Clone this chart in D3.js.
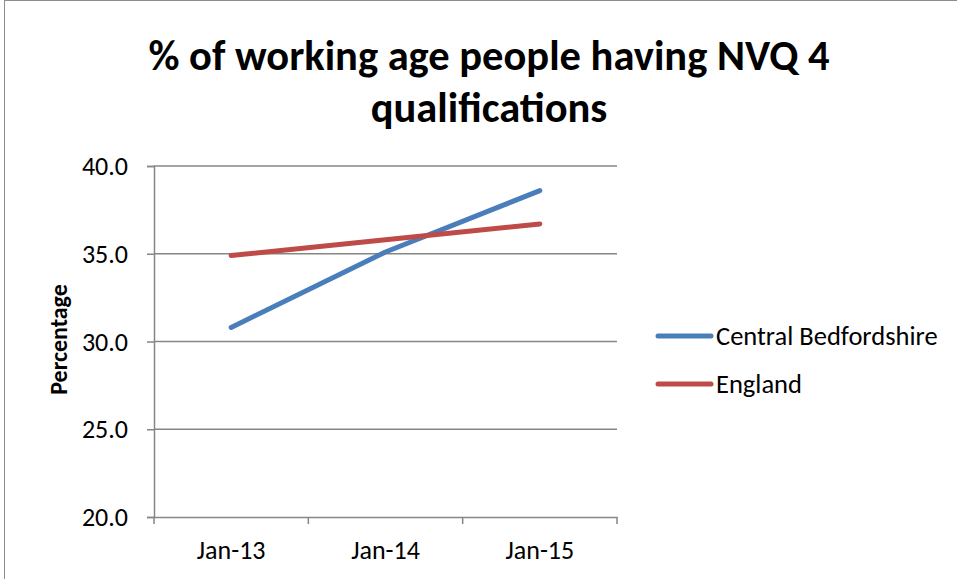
<!DOCTYPE html>
<html>
<head>
<meta charset="utf-8">
<script src="https://cdn.jsdelivr.net/npm/d3@7/dist/d3.min.js"></script>
<style>
  html, body { margin: 0; padding: 0; background: #fff; }
  svg { display: block; }
  text { font-family: Carlito, "Liberation Sans", Arial, sans-serif; fill: #000; }
</style>
</head>
<body>
<svg id="chart" width="957" height="579"></svg>
<script>
// Chart content
const titleLines = ["% of working age people having NVQ 4", "qualifications"];
const categories = ["Jan-13", "Jan-14", "Jan-15"];
const seriesNames = ["Central Bedfordshire", "England"];
const centralBedfordshire = [30.8, 35.1, 38.6];
const england = [34.9, 35.8, 36.7];
const yTicks = [20, 25, 30, 35, 40];
const yLabel = "Percentage";
const seriesColors = ["#4A7EBB", "#BE4B48"];

const svg = d3.select("#chart");

// outer chart frame
svg.append("rect")
  .attr("x", 4.5).attr("y", 0.5)
  .attr("width", 1000).attr("height", 1000)
  .attr("fill", "none").attr("stroke", "#8c8c8c").attr("stroke-width", 1);

const plot = { left: 154, right: 617, top: 166, bottom: 517 };

const x = d3.scaleBand().domain(categories).range([plot.left, plot.right]);
const y = d3.scaleLinear().domain([20, 40]).range([plot.bottom, plot.top]);

// horizontal gridlines
svg.append("g").selectAll("line").data(yTicks.filter(t => t > 20)).join("line")
  .attr("x1", plot.left).attr("x2", plot.right)
  .attr("y1", d => y(d)).attr("y2", d => y(d))
  .attr("stroke", "#868686").attr("stroke-width", 1.5);

// y axis
const yAxis = svg.append("g").attr("transform", `translate(${plot.left},0)`)
  .call(d3.axisLeft(y).tickValues(yTicks).tickFormat(d3.format(".1f")).tickSize(7).tickPadding(19));
yAxis.select(".domain").attr("stroke", "#868686").attr("stroke-width", 1.5);
yAxis.selectAll(".tick line").attr("stroke", "#868686").attr("stroke-width", 1.5);
yAxis.selectAll(".tick text").attr("font-size", 26).attr("font-family", null).attr("dy", "0.33em");

// x axis with ticks between categories
const xAxis = svg.append("g").attr("transform", `translate(0,${plot.bottom})`)
  .call(d3.axisBottom(x).tickSize(0).tickPadding(24));
xAxis.select(".domain").attr("stroke", "#868686").attr("stroke-width", 1.5);
xAxis.selectAll(".tick text").attr("font-size", 26).attr("font-family", null);
const boundaries = categories.map(c => x(c)).concat([x(categories[categories.length - 1]) + x.bandwidth()]);
xAxis.append("g").selectAll("line").data(boundaries).join("line")
  .attr("x1", d => d).attr("x2", d => d).attr("y1", 0).attr("y2", 7)
  .attr("stroke", "#868686").attr("stroke-width", 1.5);

// series lines
const line = d3.line().x((d, i) => x(categories[i]) + x.bandwidth() / 2).y(d => y(d));
[centralBedfordshire, england].forEach((vals, k) => {
  svg.append("path").datum(vals)
    .attr("d", line)
    .attr("fill", "none")
    .attr("stroke", seriesColors[k])
    .attr("stroke-width", 5)
    .attr("stroke-linecap", "round")
    .attr("stroke-linejoin", "round");
});

// title
svg.append("g").selectAll("text").data(titleLines).join("text")
  .attr("x", 489).attr("y", (d, i) => 70 + i * 52)
  .attr("text-anchor", "middle")
  .attr("font-size", 42.5).attr("font-weight", "bold")
  .text(d => d);

// y axis title
svg.append("text")
  .attr("transform", `translate(67,${(plot.top + plot.bottom) / 2 - 2}) rotate(-90)`)
  .attr("text-anchor", "middle")
  .attr("font-size", 24).attr("font-weight", "bold")
  .text(yLabel);

// legend
const legend = svg.append("g");
seriesNames.forEach((name, k) => {
  const ly = 336 + k * 48;
  legend.append("line")
    .attr("x1", 658).attr("x2", 711).attr("y1", ly).attr("y2", ly)
    .attr("stroke", seriesColors[k]).attr("stroke-width", 5).attr("stroke-linecap", "round");
  legend.append("text")
    .attr("x", 716).attr("y", ly).attr("dy", "0.33em")
    .attr("font-size", 26.5)
    .text(name);
});
</script>
</body>
</html>
